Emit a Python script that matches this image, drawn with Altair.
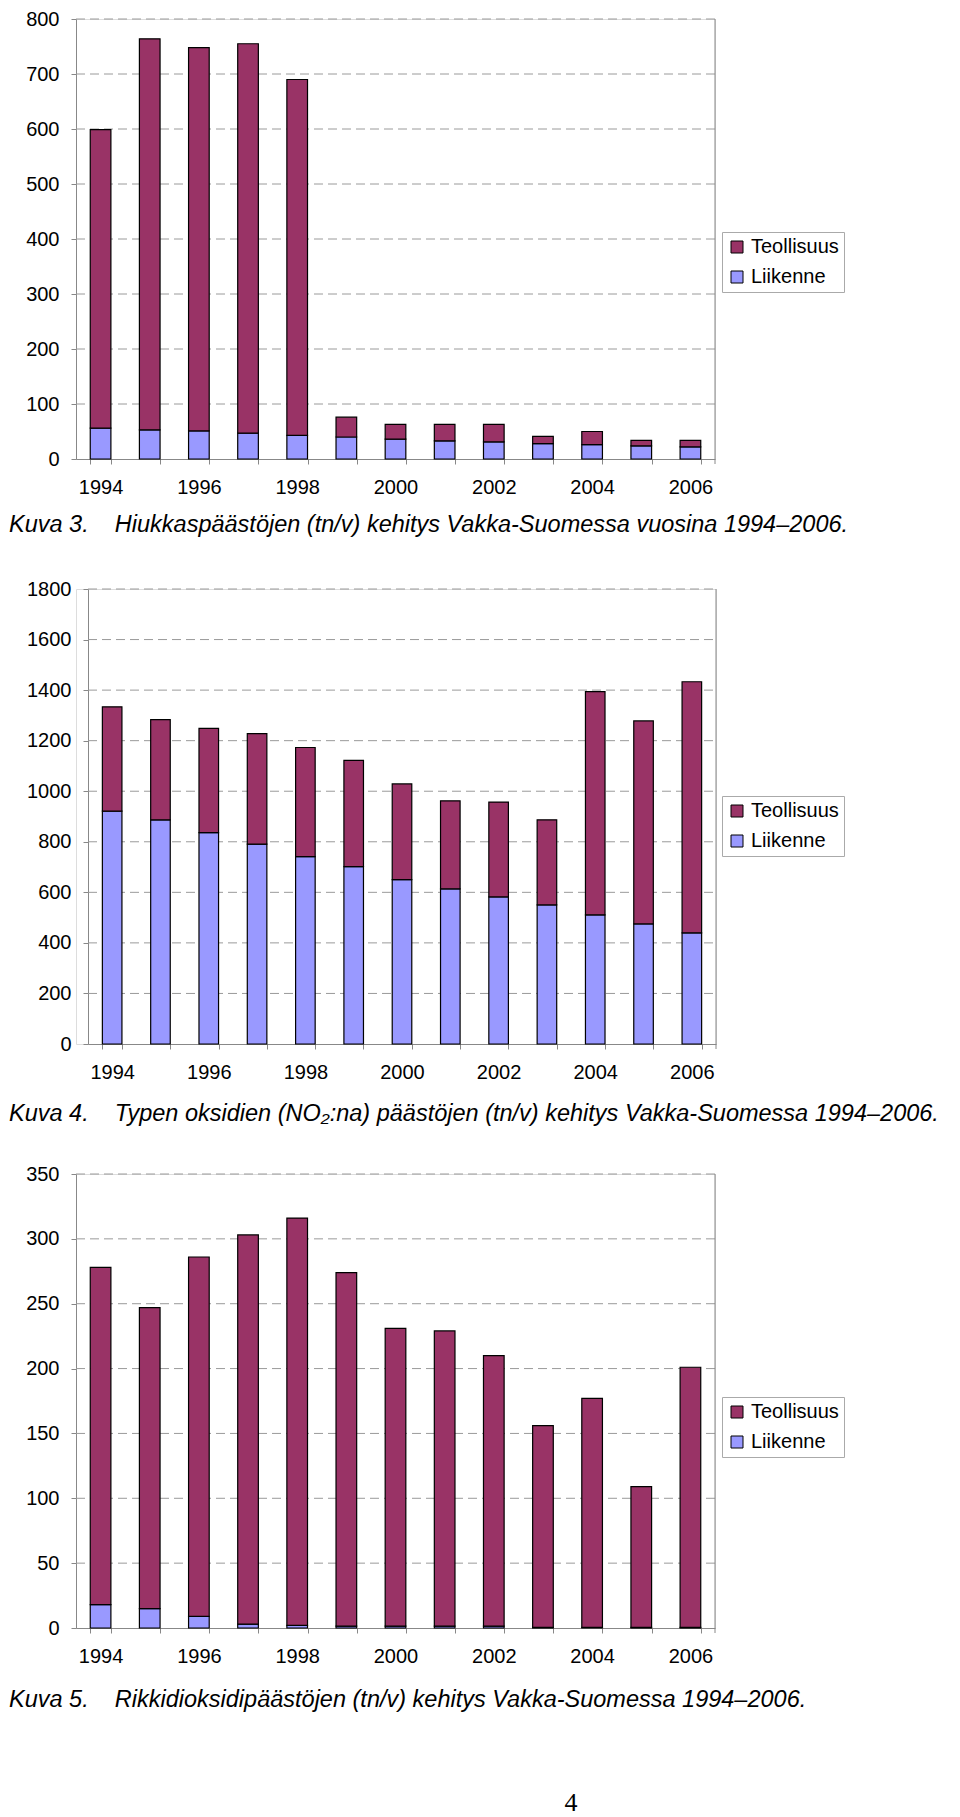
import altair as alt
import pandas as pd

years = list(range(1994, 2007))
series_names = ["Teollisuus", "Liikenne"]
series_colors = ["#993366", "#9999FF"]

# Kuva 3: particulate emissions (tn/v)
pm_liikenne = [56, 53, 51, 47, 43, 40, 36, 33, 31, 28, 26, 24, 22]
pm_teollisuus = [543, 711, 697, 708, 647, 36, 27, 30, 32, 13, 24, 10, 12]
pm_ticks = [0, 100, 200, 300, 400, 500, 600, 700, 800]

# Kuva 4: nitrogen oxides (tn/v)
nox_liikenne = [921, 887, 836, 791, 741, 702, 650, 614, 582, 550, 511, 475, 440]
nox_teollisuus = [413, 396, 413, 437, 432, 420, 379, 348, 375, 337, 883, 803, 993]
nox_ticks = [0, 200, 400, 600, 800, 1000, 1200, 1400, 1600, 1800]

# Kuva 5: sulphur dioxide (tn/v)
so2_liikenne = [18, 15, 9, 3, 2, 1.5, 1.5, 1.5, 1.5, 0.5, 0.5, 0.5, 0.5]
so2_teollisuus = [260, 232, 277, 300, 314, 272.5, 229.5, 227.5, 208.5, 155.5, 176.5, 108.5, 200.5]
so2_ticks = [0, 50, 100, 150, 200, 250, 300, 350]

NB = "\u00a0"
captions = [
    "Kuva 3." + NB * 4 + "Hiukkaspäästöjen (tn/v) kehitys Vakka-Suomessa vuosina 1994–2006.",
    "Kuva 4." + NB * 4 + "Typen oksidien (NO\u2082:na) päästöjen (tn/v) kehitys Vakka-Suomessa 1994–2006.",
    "Kuva 5." + NB * 4 + "Rikkidioksidipäästöjen (tn/v) kehitys Vakka-Suomessa 1994–2006.",
]
page_number = "4"

FONT = "Liberation Sans"
GRID = "#9a9a9a"
AXIS = "#888888"
FS = 20


def panel(liik, teol, ticks, caption, W, H, x0, pinner, leg_up, cap_dy, page=None):
    df = pd.DataFrame({
        "year": years * 2,
        "series": ["Liikenne"] * len(years) + ["Teollisuus"] * len(years),
        "value": liik + teol,
        "ord": [0] * len(years) + [1] * len(years),
    })
    ydomain = [0, ticks[-1]]
    yaxis = alt.Axis(title=None, values=ticks, grid=False, offset=-x0, format="d",
                     labelFontSize=FS, labelColor="black", labelPadding=12,
                     tickSize=5, tickColor=AXIS, domainColor=AXIS, labelFont=FONT)
    xaxis = alt.Axis(title=None, tickBand="extent", labelAngle=0,
                     labelExpr="toNumber(datum.value) % 2 == 0 ? datum.label : ''",
                     labelFontSize=FS, labelColor="black", labelPadding=13,
                     tickSize=5, tickColor=AXIS, domainColor=AXIS, labelFont=FONT)
    xscale = alt.Scale(range=[x0, W], paddingInner=pinner, paddingOuter=pinner / 2)

    grid = alt.Chart(pd.DataFrame({"value": ticks[1:]})).mark_rule(
        color=GRID, strokeDash=[9, 5], strokeWidth=1
    ).encode(
        y=alt.Y("value:Q", scale=alt.Scale(domain=ydomain, nice=False), axis=yaxis),
        x=alt.value(x0), x2=alt.value(W),
    )
    bars = alt.Chart(df).mark_bar(stroke="black", strokeWidth=1.2).encode(
        x=alt.X("year:O", scale=xscale, axis=xaxis),
        y=alt.Y("value:Q", stack="zero", scale=alt.Scale(domain=ydomain, nice=False), axis=yaxis),
        color=alt.Color("series:N", scale=alt.Scale(domain=series_names, range=series_colors),
                        legend=alt.Legend(orient="none", legendX=646, legendY=H - leg_up,
                                          title=None, strokeColor="#aaaaaa", fillColor="white",
                                          padding=5, symbolType="square", symbolSize=144,
                                          symbolStrokeColor="black", symbolStrokeWidth=1,
                                          labelFontSize=FS, labelFont=FONT, labelColor="black",
                                          rowPadding=10, labelOffset=4)),
        order=alt.Order("ord:Q", sort="ascending"),
    )
    border = alt.Chart(pd.DataFrame({"a": [0]})).mark_rule(color=AXIS, strokeWidth=1).encode(
        x=alt.value(W), y=alt.value(0), y2=alt.value(H + 5)
    )
    cap = alt.Chart(pd.DataFrame({"t": [caption]})).mark_text(
        align="left", baseline="middle", fontSize=23.5, fontStyle="italic", font=FONT, color="black"
    ).encode(x=alt.value(-67), y=alt.value(H + cap_dy), text="t:N")
    layers = [grid, bars, border, cap]
    if page is not None:
        pg = alt.Chart(pd.DataFrame({"t": [page]})).mark_text(
            align="center", baseline="middle", fontSize=26, font="Liberation Serif", color="black"
        ).encode(x=alt.value(495), y=alt.value(H + 175), text="t:N")
        layers.append(pg)
    return alt.layer(*layers).properties(width=W, height=H)


p1 = panel(pm_liikenne, pm_teollisuus, pm_ticks, captions[0], 639, 440, 0, 0.58, 227, 66)
p2 = panel(nox_liikenne, nox_teollisuus, nox_ticks, captions[1], 640, 455, 12, 0.595, 248, 70)
p3 = panel(so2_liikenne, so2_teollisuus, so2_ticks, captions[2], 639, 454, 0, 0.58, 231, 72,
           page=page_number)

chart = alt.vconcat(p1, p2, p3, spacing=130, bounds="flush").resolve_scale(
    color="independent", x="independent", y="independent"
).resolve_legend(color="independent").properties(
    padding={"left": 0, "top": 0, "right": 0, "bottom": 0}
).configure_view(stroke=None).configure(font=FONT, background="white")

chart.save("out.html", embed_options={"renderer": "svg", "actions": False})
